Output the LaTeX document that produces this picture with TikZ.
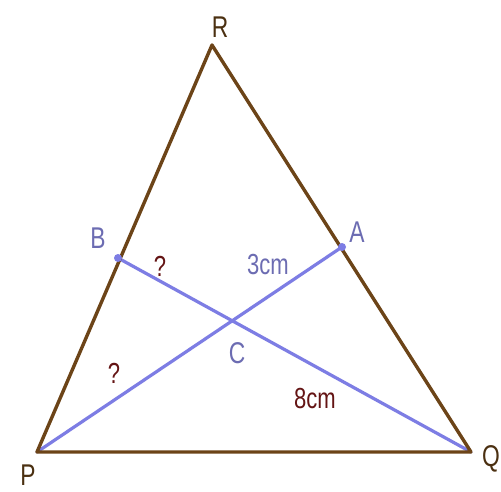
\documentclass[tikz,border=0pt]{standalone}
\usepackage{fontspec}
\setmainfont{Liberation Sans}
\usetikzlibrary{positioning,calc}
\definecolor{brn}{RGB}{108,68,24}
\definecolor{blu}{RGB}{125,125,228}
\definecolor{lbl}{RGB}{108,108,178}
\definecolor{drd}{RGB}{100,20,20}
\tikzset{side/.style={draw=brn,line width=3.4pt,line join=round},
 cev/.style={draw=blu,line width=3.2pt,line cap=round},
 vtx/.style={text=brn!70!black,font=\fontsize{30}{30}\selectfont,inner sep=0pt,xscale=.76},
 pnt/.style={text=lbl,font=\fontsize{30}{30}\selectfont,inner sep=0pt,xscale=.76},
 msr/.style={text=drd,font=\fontsize{29}{29}\selectfont,inner sep=0pt,xscale=.76}}
\begin{document}
\begin{tikzpicture}[x=1pt,y=-1pt]
\fill[white](0,0)rectangle(501,492);
\useasboundingbox(0,0)rectangle(501,492);
\coordinate(P)at(37,452);\coordinate(Q)at(471,452);\coordinate(R)at(212,45);
\coordinate(B)at(118,258);\coordinate(A)at(342,247);
\draw[cev](P)--(A);\draw[cev](Q)--(B);
\draw[side](P)--(Q)--(R)--cycle;
\foreach \p in {A,B}{\fill[blu](\p)circle(4);}
\coordinate(C)at(intersection of P--A and Q--B);
\node[vtx](lR)at(220,27){R};\node[vtx](lP)at(28,475){P};\node[vtx](lQ)at(491,459){Q};
\node[pnt](lB)at(98,238){B};\node[pnt](lA)at(357,232){A};\node[pnt](lC)at(237,353){C};
\node[msr](q1)at(160,266){?};\node[msr](q2)at(114,373){?};
\node[pnt,font=\fontsize{29}{29}\selectfont](d1)at(268,265){3cm};
\node[msr](d2)at(315,399){8cm};
\end{tikzpicture}
\end{document}
